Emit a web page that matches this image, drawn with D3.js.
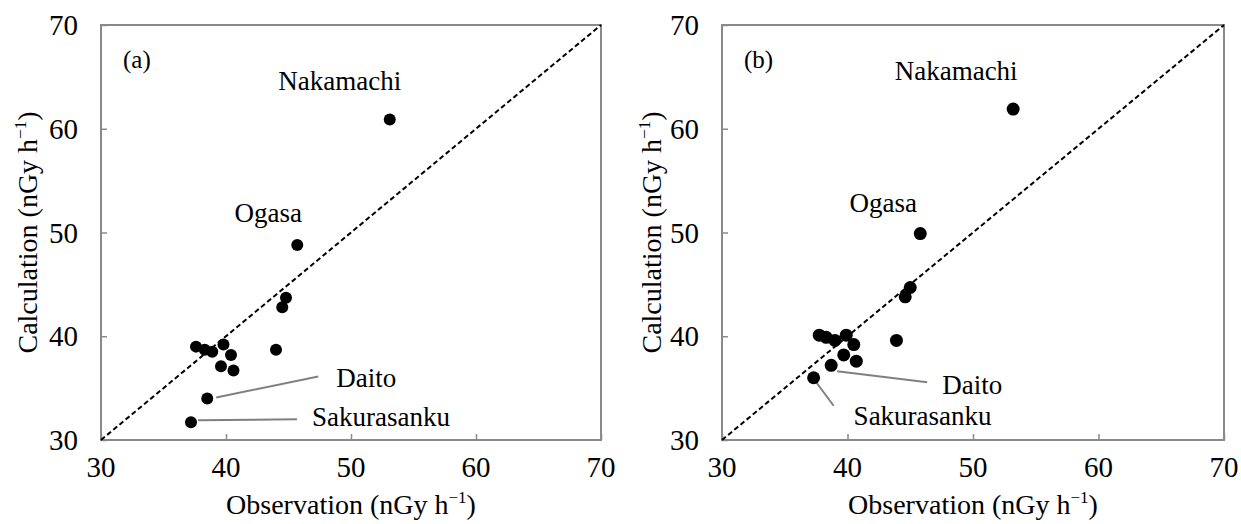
<!DOCTYPE html>
<html>
<head>
<meta charset="utf-8">
<script src="https://cdn.jsdelivr.net/npm/d3@7"></script>
<style>
  html, body { margin: 0; padding: 0; background: #fff; }
  svg text { font-family: "Liberation Serif", "Times New Roman", serif; fill: #000; }
</style>
</head>
<body>
<svg id="chart" width="1241" height="524"></svg>
<script>
// Axis ticks shared by both panels (nGy h^-1)
const axisTicks = [30, 40, 50, 60, 70];

// Panel (a): observed vs calculated air dose rate
const obsA  = [37.6, 38.3, 38.9, 39.8, 40.4, 39.6, 40.6, 44.0, 38.5, 37.2, 44.5, 44.8, 45.7, 53.1];
const calcA = [39.0, 38.7, 38.5, 39.2, 38.2, 37.1, 36.7, 38.7, 34.0, 31.7, 42.8, 43.7, 48.8, 60.9];

// Panel (b)
const obsB  = [37.75, 38.3, 39.0, 39.9, 40.5, 39.7, 40.7, 43.9, 38.7, 37.3, 44.6, 45.0, 45.8, 53.2];
const calcB = [40.1, 39.9, 39.6, 40.1, 39.2, 38.2, 37.6, 39.6, 37.2, 36.0, 43.8, 44.7, 49.9, 61.9];

// Site names and the point each one refers to
const siteNames = ["Nakamachi", "Ogasa", "Daito", "Sakurasanku"];
const siteIndex = [13, 12, 8, 9];

// Label placement per panel (pixel offsets from the point; leader line optional)
const labelLayoutA = [
  { dx: -50, dy: -29, anchor: "middle" },
  { dx: -29, dy: -23, anchor: "middle" },
  { dx: 129, dy: -12, anchor: "start", line: [9, -1, 111, -22] },
  { dx: 121, dy: 4, anchor: "start", line: [7, -2, 106, -3] }
];
const labelLayoutB = [
  { dx: -57, dy: -29, anchor: "middle" },
  { dx: -37, dy: -22, anchor: "middle" },
  { dx: 111, dy: 29, anchor: "start", line: [6, 6, 96, 17] },
  { dx: 40, dy: 47, anchor: "start", line: [0, 1, 20, 28] }
];

const panels = [
  { tag: "(a)", obs: obsA, calc: calcA, layout: labelLayoutA, x0: 101, x1: 601, titleX: 27, r: 6 },
  { tag: "(b)", obs: obsB, calc: calcB, layout: labelLayoutB, x0: 722, x1: 1224, titleX: 651, r: 6.5 }
];

const svg = d3.select("#chart");
const plotTop = 25, plotBottom = 440;
const tickFont = 29, titleFont = 28, labelFont = 27;
const frameColor = "#8a8a8a";

function addUnit(textSel, base) {
  textSel.append("tspan").text(base + " (nGy h");
  textSel.append("tspan").attr("dy", -11).attr("font-size", 17).text("\u22121");
  textSel.append("tspan").attr("dy", 11).text(")");
}

panels.forEach(p => {
  const x = d3.scaleLinear().domain([30, 70]).range([p.x0, p.x1]);
  const y = d3.scaleLinear().domain([30, 70]).range([plotBottom, plotTop]);
  const g = svg.append("g");

  // Inward ticks on the left and bottom axes
  const xAxis = d3.axisBottom(x).tickValues(axisTicks).tickSize(-6).tickFormat("");
  const yAxis = d3.axisLeft(y).tickValues(axisTicks).tickSize(-6).tickFormat("");
  const gx = g.append("g").attr("transform", `translate(0,${plotBottom})`).call(xAxis);
  const gy = g.append("g").attr("transform", `translate(${p.x0},0)`).call(yAxis);
  [gx, gy].forEach(a => {
    a.select(".domain").remove();
    a.selectAll("line").attr("stroke", frameColor).attr("stroke-width", 1.5);
  });

  // Frame
  g.append("rect")
    .attr("x", p.x0).attr("y", plotTop)
    .attr("width", p.x1 - p.x0).attr("height", plotBottom - plotTop)
    .attr("fill", "none").attr("stroke", frameColor).attr("stroke-width", 2);

  // Tick labels
  g.selectAll(".xt").data(axisTicks).join("text")
    .attr("x", d => x(d)).attr("y", plotBottom + 37)
    .attr("text-anchor", "middle").attr("font-size", tickFont).text(d => d);
  g.selectAll(".yt").data(axisTicks).join("text")
    .attr("x", p.x0 - 23).attr("y", d => y(d) + 10)
    .attr("text-anchor", "end").attr("font-size", tickFont).text(d => d);

  // Axis titles
  const xt = g.append("text")
    .attr("x", (p.x0 + p.x1) / 2).attr("y", plotBottom + 74)
    .attr("text-anchor", "middle").attr("font-size", titleFont);
  addUnit(xt, "Observation");
  const yt = g.append("text")
    .attr("transform", `translate(${p.titleX + 10},${(plotTop + plotBottom) / 2}) rotate(-90)`)
    .attr("text-anchor", "middle").attr("font-size", titleFont);
  addUnit(yt, "Calculation");

  // 1:1 line
  g.append("line")
    .attr("x1", x(30)).attr("y1", y(30)).attr("x2", x(70)).attr("y2", y(70))
    .attr("stroke", "#000").attr("stroke-width", 2).attr("stroke-dasharray", "5,3");

  // Leader lines
  siteIndex.forEach((idx, k) => {
    const l = p.layout[k];
    if (!l.line) return;
    const px = x(p.obs[idx]), py = y(p.calc[idx]);
    g.append("line")
      .attr("x1", px + l.line[0]).attr("y1", py + l.line[1])
      .attr("x2", px + l.line[2]).attr("y2", py + l.line[3])
      .attr("stroke", "#808080").attr("stroke-width", 2);
  });

  // Points
  g.selectAll("circle").data(d3.range(p.obs.length)).join("circle")
    .attr("cx", i => x(p.obs[i])).attr("cy", i => y(p.calc[i]))
    .attr("r", p.r).attr("fill", "#000");

  // Site labels
  siteIndex.forEach((idx, k) => {
    const l = p.layout[k];
    g.append("text")
      .attr("x", x(p.obs[idx]) + l.dx).attr("y", y(p.calc[idx]) + l.dy)
      .attr("text-anchor", l.anchor).attr("font-size", labelFont)
      .text(siteNames[k]);
  });

  // Panel tag
  g.append("text")
    .attr("x", p.x0 + 22).attr("y", plotTop + 43)
    .attr("font-size", 25).text(p.tag);
});
</script>
</body>
</html>
